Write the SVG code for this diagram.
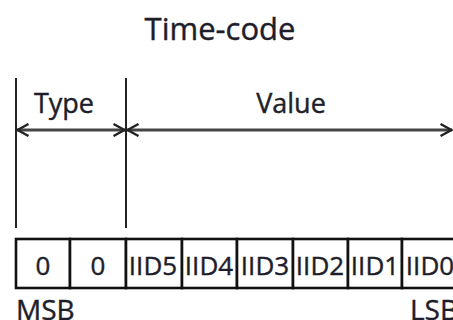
<svg xmlns="http://www.w3.org/2000/svg" width="453" height="320" viewBox="0 0 453 320">
  <style>
    text { font-family: "Open Sans", "Liberation Sans", sans-serif; fill: #1e1e2a; stroke: #1e1e2a; stroke-width: 0.4; }
    .title { font-size: 31px; }
    .label { font-size: 27px; }
    .cell { font-size: 26px; }
    .edge { font-size: 28px; }
    .line { stroke: #222; stroke-width: 2; fill: none; }
    .arrow { stroke: #444; stroke-width: 3; fill: none; }
    .box { stroke: #111; stroke-width: 2.6; fill: #fff; }
  </style>
  <defs>
    <marker id="head" viewBox="0 0 13 14" refX="12.5" refY="7" markerWidth="13" markerHeight="14" markerUnits="userSpaceOnUse" orient="auto-start-reverse">
      <path d="M1,1 L12,7 L1,13" fill="none" stroke="#222" stroke-width="2.4"/>
    </marker>
  </defs>

  <g id="title">
    <text class="title" x="220" y="40" text-anchor="middle">Time-code</text>
  </g>

  <g id="connectors">
    <line class="line" x1="16" y1="78" x2="16" y2="228"/>
    <line class="line" x1="126" y1="78" x2="126" y2="228" stroke="#666"/>
    <line class="arrow" x1="17" y1="130" x2="125" y2="130" marker-start="url(#head)" marker-end="url(#head)"/>
    <line class="arrow" x1="127" y1="130" x2="452" y2="130" marker-start="url(#head)" marker-end="url(#head)"/>
  </g>

  <g id="type-label">
    <text class="label" x="64" y="113" text-anchor="middle">Type</text>
  </g>
  <g id="value-label">
    <text class="label" x="291" y="113" text-anchor="middle">Value</text>
  </g>

  <g id="bit7">
    <rect class="box" x="16" y="239" width="54" height="49"/>
    <text class="cell" x="43" y="275" text-anchor="middle">0</text>
  </g>
  <g id="bit6">
    <rect class="box" x="70" y="239" width="56" height="49"/>
    <text class="cell" x="98" y="275" text-anchor="middle">0</text>
  </g>
  <g id="bit5">
    <rect class="box" x="126" y="239" width="56" height="49"/>
    <text class="cell" x="153" y="275" text-anchor="middle">IID5</text>
  </g>
  <g id="bit4">
    <rect class="box" x="182" y="239" width="55" height="49"/>
    <text class="cell" x="209" y="275" text-anchor="middle">IID4</text>
  </g>
  <g id="bit3">
    <rect class="box" x="237" y="239" width="56" height="49"/>
    <text class="cell" x="265" y="275" text-anchor="middle">IID3</text>
  </g>
  <g id="bit2">
    <rect class="box" x="293" y="239" width="55" height="49"/>
    <text class="cell" x="320" y="275" text-anchor="middle">IID2</text>
  </g>
  <g id="bit1">
    <rect class="box" x="348" y="239" width="54" height="49"/>
    <text class="cell" x="375" y="275" text-anchor="middle">IID1</text>
  </g>
  <g id="bit0">
    <rect class="box" x="402" y="239" width="56" height="49"/>
    <text class="cell" x="430" y="275" text-anchor="middle">IID0</text>
  </g>

  <g id="msb">
    <text class="edge" x="16" y="320">MSB</text>
  </g>
  <g id="lsb">
    <text class="edge" x="410" y="320">LSB</text>
  </g>
</svg>
